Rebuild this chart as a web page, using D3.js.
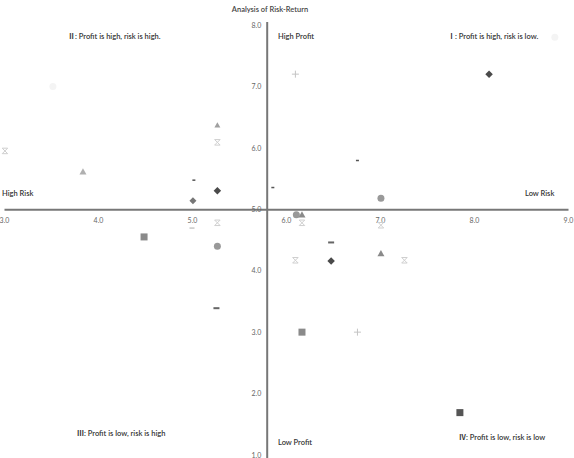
<!DOCTYPE html>
<html><head><meta charset="utf-8">
<script src="https://cdn.jsdelivr.net/npm/d3@7"></script>
<style>
body{margin:0;background:#fff;}
svg{display:block;font-family:Lato,"Open Sans",sans-serif;}
</style></head>
<body><svg id="c" width="574" height="458"></svg>
<script>
// ---- data ----
const xTicks = [3.0, 4.0, 5.0, 6.0, 7.0, 8.0, 9.0];
const yTicks = [1.0, 2.0, 3.0, 4.0, 5.0, 6.0, 7.0, 8.0];
const title = "Analysis of Risk-Return";
const quadrantNums = ["Ⅰ", "Ⅱ", "Ⅲ", "Ⅳ"];
const quadrantTexts = [": Profit is high, risk is low.", ": Profit is high, risk is high.", ": Profit is low, risk is high", ": Profit is low, risk is low"];
const axisLabels = ["High Profit", "Low Profit", "High Risk", "Low Risk"];
const diamondDark = [[5.27,5.30],[6.48,4.16],[8.16,7.20]];
const diamondMid = [[5.01,5.14]];
const squareDark = [[7.85,1.69]];
const squareMid = [[4.49,4.55],[6.17,3.00]];
const triangleMid = [[6.17,4.91],[7.01,4.28]];
const triangleSmall = [[5.27,6.37]];
const triangleLight = [[3.84,5.61]];
const circleMid = [[6.11,4.91],[7.01,5.18],[5.27,4.40]];
const crossLight = [[3.01,5.95],[5.27,6.09],[5.27,4.78],[6.17,4.78],[6.10,4.17],[7.01,4.74],[7.26,4.17]];
const plusLight = [[6.10,7.20],[6.76,3.00]];
const dashDark = [[5.26,3.39],[6.48,4.46]];
const dashSmall = [[5.02,5.47],[5.86,5.35],[6.76,5.79]];
const dashLight = [[5.00,4.69]];
const faint = [[3.52,7.00],[8.86,7.80]];

// ---- chart ----
const svg = d3.select("#c");
const x = d3.scaleLinear().domain([3,9]).range([4,568]);
const y = d3.scaleLinear().domain([1,8]).range([455,25]);
const crossX = 5.8, crossY = 5.0;

svg.append("text").attr("x",270).attr("y",12).attr("text-anchor","middle")
  .attr("font-size",7.5).attr("font-weight",600).attr("fill","#444").text(title);

const gx = svg.append("g").attr("transform",`translate(0,${y(crossY)})`)
  .call(d3.axisBottom(x).tickValues(xTicks).tickSize(0).tickSizeOuter(0).tickPadding(9).tickFormat(d3.format(".1f")));
gx.select(".domain").attr("stroke","#777").attr("stroke-width",2);
gx.selectAll("text").attr("font-size",7).attr("fill","#666").attr("font-family","Lato,sans-serif");

const gy = svg.append("g").attr("transform",`translate(${x(crossX)},0)`)
  .call(d3.axisLeft(y).tickValues(yTicks).tickSize(0).tickSizeOuter(0).tickPadding(6).tickFormat(d3.format(".1f")));
gy.select(".domain").attr("stroke","#777").attr("stroke-width",2);
gy.selectAll("text").attr("font-size",7).attr("fill","#666").attr("font-family","Lato,sans-serif");
gy.select(".domain").attr("d",`M0,${y(8)-3}V458`);

// labels
const lab = (num,t,px,py) => {
  const tx = svg.append("text").attr("x",px).attr("y",py)
    .attr("font-size",7.5).attr("font-weight",600).attr("fill","#333");
  if(num) tx.append("tspan").attr("font-family","'Noto Sans CJK SC','DejaVu Sans'").attr("font-size",7).text(num);
  tx.append("tspan").text(t);
};
lab(quadrantNums[0],quadrantTexts[0],448,39);
lab(quadrantNums[1],quadrantTexts[1],68,39);
lab(quadrantNums[2],quadrantTexts[2],77,436);
lab(quadrantNums[3],quadrantTexts[3],459,440);
lab(null,axisLabels[0],278,39);
lab(null,axisLabels[1],278,445);
lab(null,axisLabels[2],2,196);
lab(null,axisLabels[3],525,196);

function plot(data, type, color, size, opts){
  opts = opts||{};
  const g = svg.append("g");
  data.forEach(d=>{
    const cx = x(d[0]), cy = y(d[1]);
    const s = size/2;
    if(type==="dash"){
      g.append("rect").attr("x",cx-s).attr("y",cy-1).attr("width",size).attr("height",opts.h||2).attr("fill",color);
    } else if(type==="cross"){
      g.append("path").attr("d",`M${cx-s},${cy-s}L${cx+s},${cy+s}M${cx-s},${cy+s}L${cx+s},${cy-s}M${cx-s},${cy-s}H${cx+s}M${cx-s},${cy+s}H${cx+s}`)
        .attr("stroke",color).attr("stroke-width",1).attr("fill","none");
    } else if(type==="plus"){
      g.append("path").attr("d",`M${cx-s},${cy}H${cx+s}M${cx},${cy-s}V${cy+s}`)
        .attr("stroke",color).attr("stroke-width",1).attr("fill","none");
    } else if(type==="blob"){
      g.append("circle").attr("cx",cx).attr("cy",cy).attr("r",s).attr("fill",color);
    } else if(type==="diamond"){
      g.append("path").attr("d",`M${cx},${cy-s}L${cx+s},${cy}L${cx},${cy+s}L${cx-s},${cy}Z`).attr("fill",color);
    } else if(type==="square"){
      g.append("rect").attr("x",cx-s).attr("y",cy-s).attr("width",size).attr("height",size).attr("fill",color);
    } else if(type==="triangle"){
      g.append("path").attr("d",`M${cx},${cy-s}L${cx+s},${cy+s*0.8}L${cx-s},${cy+s*0.8}Z`).attr("fill",color);
    } else if(type==="circle"){
      g.append("circle").attr("cx",cx).attr("cy",cy).attr("r",s).attr("fill",color);
    }
  });
}
plot(faint,"blob","#f4f4f4",7);
plot(crossLight,"cross","#cfcfcf",5.5);
plot(plusLight,"plus","#c4c4c4",7);
plot(dashLight,"dash","#c8c8c8",5,{h:1.5});
plot(triangleLight,"triangle","#b0b0b0",7);
plot(triangleSmall,"triangle","#a0a0a0",6);
plot(circleMid,"circle","#999",7);
plot(triangleMid,"triangle","#8a8a8a",7);
plot(squareMid,"square","#8a8a8a",7);
plot(squareDark,"square","#555",7);
plot(diamondMid,"diamond","#777",7);
plot(diamondDark,"diamond","#4a4a4a",7.5);
plot(dashDark,"dash","#666",6);
plot(dashSmall,"dash","#555",3,{h:1.5});
</script></body></html>
